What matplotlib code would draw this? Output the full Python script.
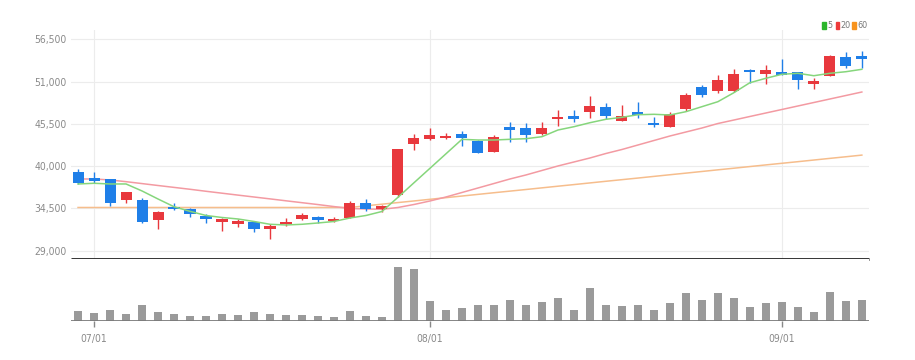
import numpy as np
import matplotlib
matplotlib.use('Agg')
import matplotlib.pyplot as plt
from matplotlib.patches import Rectangle
from matplotlib import font_manager

# daily candles (price in won)
opens = [39200, 38300, 38290, 35600, 35600, 33000, 34570, 34390, 33510, 32770,
         32510, 32770, 31860, 32440, 33160, 33420, 32860, 33220, 35250, 34430,
         36250, 42920, 43490, 43660, 44140, 43310, 41880, 45050, 45000, 44140,
         46130, 46520, 47010, 47730, 45910, 47080, 45650, 45130, 47400, 50260,
         49820, 49820, 52420, 51990, 52250, 52210, 50730, 51730, 54240, 54330]
highs = [39590, 39200, 38300, 36700, 35860, 34150, 35250, 34500, 33780, 33220,
         33090, 32900, 32440, 33290, 33870, 33500, 33350, 35470, 35730, 34990,
         42200, 44180, 44920, 44350, 44570, 43350, 44050, 45780, 45570, 45780,
         47300, 47300, 49130, 48180, 47950, 48380, 46350, 47080, 49500, 50550,
         51860, 52600, 52600, 53160, 53940, 52300, 51430, 54400, 54890, 55020]
lows = [37700, 37770, 34855, 35170, 32650, 31820, 34300, 33420, 32640, 31600,
        32040, 31470, 30520, 32250, 32990, 32560, 32730, 33200, 34200, 34000,
        36030, 42100, 43400, 43490, 42620, 41650, 41850, 43180, 43180, 44100,
        45220, 45780, 46220, 46100, 45900, 46220, 45130, 45100, 47170, 48960,
        49480, 49700, 50860, 50650, 51850, 50000, 50000, 51700, 52730, 52730]
closes = [37770, 38100, 35245, 36680, 32700, 34000, 34440, 33810, 33160, 32900,
          32700, 31820, 32120, 32600, 33610, 32990, 33090, 35250, 34390, 34820,
          42190, 43620, 44090, 43960, 43620, 41670, 43830, 44700, 44050, 44920,
          46430, 46130, 47830, 46520, 46520, 46610, 45350, 46750, 49260, 49260,
          51210, 51950, 52210, 52510, 51860, 51210, 50950, 54330, 53030, 53940]

# volume (thousand shares)
volumes = [200, 166, 226, 134, 314, 180, 134, 100, 100, 134,
           126, 180, 134, 126, 126, 106, 74, 200, 100, 86,
           1080, 1046, 394, 226, 266, 314, 326, 426, 314, 380,
           460, 226, 654, 314, 294, 314, 226, 360, 554, 426,
           554, 460, 280, 360, 380, 280, 180, 580, 394, 426]

# moving averages
ma5 = [37680, 37770, 37680, 37680, 36770, 35725, 34720, 34120, 33580, 33320,
       33125, 32800, 32435, 32345, 32435, 32605, 32800, 33255, 33580, 34100,
       35945, 37835, 39720, 41605, 43490, 43400, 43400, 43490, 43570, 43830,
       44700, 45130, 45650, 46095, 46355, 46690, 46745, 46655, 47085, 47735,
       48385, 49555, 50855, 51430, 51950, 52080, 51765, 52080, 52285, 52600]
ma20 = [38330, 38330, 38200, 37980, 37730, 37480, 37235, 36990, 36730, 36480,
        36230, 35985, 35740, 35490, 35245, 35000, 34740, 34490, 34425, 34385,
        34620, 35010, 35465, 35985, 36570, 37155, 37740, 38330, 38850, 39435,
        40020, 40540, 41060, 41645, 42165, 42750, 43335, 43920, 44440, 44960,
        45545, 46000, 46460, 46915, 47370, 47825, 48280, 48735, 49190, 49645]
ma60 = [34620, 34620, 34620, 34620, 34620, 34620, 34620, 34620, 34620, 34620,
        34620, 34620, 34620, 34620, 34620, 34620, 34620, 34620, 34835, 35050,
        35260, 35470, 35685, 35900, 36110, 36325, 36540, 36750, 36960, 37175,
        37390, 37600, 37815, 38030, 38240, 38450, 38665, 38880, 39090, 39305,
        39520, 39730, 39945, 40160, 40370, 40580, 40795, 41010, 41220, 41436]

tick_idx = [1, 22, 44]
tick_labels = ['07/01', '08/01', '09/01']
price_ticks = [29000, 34500, 40000, 45500, 51000, 56500]

RED = '#e8383d'
BLUE = '#1f7fe8'
GREY_TXT = '#8a8a8a'

# narrow font if the system has one
names = {f.name for f in font_manager.fontManager.ttflist}
if 'Liberation Sans Narrow' in names:
    plt.rcParams['font.family'] = ['Liberation Sans Narrow', 'DejaVu Sans']
else:
    plt.rcParams['font.family'] = ['DejaVu Sans']
    plt.rcParams['font.stretch'] = 'condensed'
FS = 7.5

fig = plt.figure(figsize=(9.15, 3.6), dpi=100)
ax = fig.add_axes([0.0776, 0.2806, 0.872, 0.636])
axv = fig.add_axes([0.0776, 0.1083, 0.872, 0.1722])

x = np.arange(len(closes))
o = np.array(opens)
c = np.array(closes)
colors = [RED if cl >= op else BLUE for op, cl in zip(opens, closes)]

# candles
ax.vlines(x, lows, highs, color=colors, lw=1, zorder=3)
body = np.maximum(np.abs(c - o), 300)
ax.bar(x, body, bottom=np.minimum(o, c), width=0.69, color=colors, zorder=4)

# moving averages
ax.plot(x, ma60, color='#f6bd8c', lw=1.1, zorder=2)
ax.plot(x, ma20, color='#f39aa2', lw=1.1, zorder=2)
ax.plot(x, ma5, color='#86d67c', lw=1.1, zorder=5)

ax.set_xlim(-0.44, 49.44)
ax.set_ylim(27920, 57710)
ax.set_yticks(price_ticks)
ax.set_yticklabels([f'{v:,}' for v in price_ticks])
ax.set_xticks(tick_idx)
ax.set_xticklabels([])
ax.tick_params(axis='both', length=0, labelsize=FS, labelcolor=GREY_TXT, pad=3)
ax.grid(True, color='#ececec', lw=0.8, zorder=0)
for s in ['top', 'right', 'left']:
    ax.spines[s].set_visible(False)
ax.spines['bottom'].set_color('#222222')
ax.spines['bottom'].set_linewidth(2)
ax.spines['bottom'].set_capstyle('butt')

# volume
axv.bar(x, volumes, width=0.5, color='#9a9a9a', zorder=3)
axv.axhline(0, color='#7a7a7a', lw=2, zorder=4)
axv.set_xlim(-0.44, 49.44)
axv.set_ylim(0, max(volumes) * 1.15)
axv.set_yticks([])
axv.set_xticks(tick_idx)
axv.set_xticklabels(tick_labels)
axv.tick_params(axis='x', length=4, width=1, color='#888888', labelsize=FS,
                labelcolor=GREY_TXT, pad=5)
for s in axv.spines.values():
    s.set_visible(False)

# legend (top right)
legend_items = [('5', '#2bb52b'), ('20', '#ee3a3a'), ('60', '#f7931e')]
lx = [822.0, 835.5, 852.0]
for (lab, col), px in zip(legend_items, lx):
    fig.add_artist(Rectangle((px / 915, 1 - 28.5 / 360), 3.5 / 915, 6 / 360,
                             transform=fig.transFigure, color=col))
    fig.text((px + 5) / 915, 1 - 25.5 / 360, lab, fontsize=6.5, color='#777777',
             va='center', ha='left')

fig.savefig('out.png', dpi=100)
